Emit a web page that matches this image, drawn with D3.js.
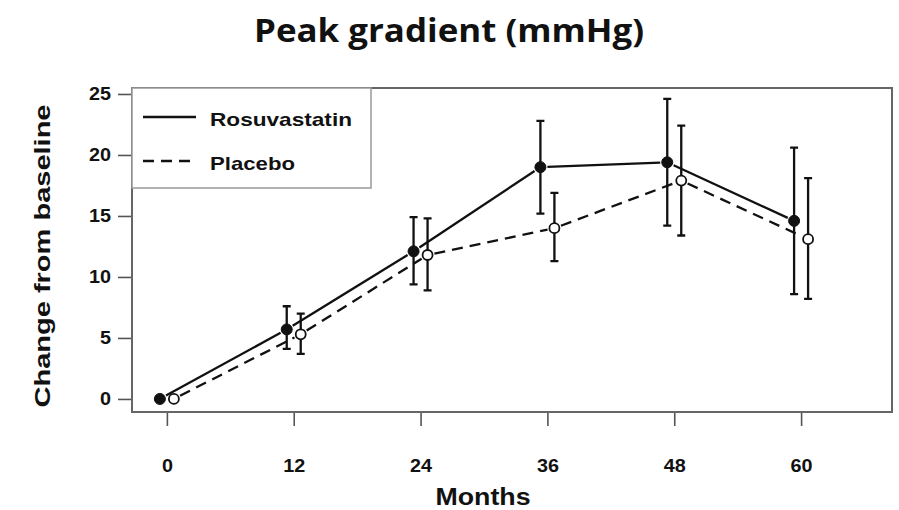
<!DOCTYPE html>
<html>
<head>
<meta charset="utf-8">
<script src="https://cdn.jsdelivr.net/npm/d3@7"></script>
<style>
  body { margin: 0; background: #fff; }
  svg { display: block; }
  text { font-family: "Liberation Sans", Arial, sans-serif; font-weight: bold; fill: #111; }
</style>
</head>
<body>
<script>
// values
var months = [0, 12, 24, 36, 48, 60];
var rosMean = [0, 5.7, 12.1, 19.0, 19.4, 14.6];
var rosLow = [0, 4.1, 9.4, 15.2, 14.2, 8.6];
var rosHigh = [0, 7.6, 14.9, 22.8, 24.6, 20.6];
var placeboMean = [0, 5.3, 11.8, 14.0, 17.9, 13.1];
var placeboLow = [0, 3.7, 8.9, 11.3, 13.4, 8.2];
var placeboHigh = [0, 7.0, 14.8, 16.9, 22.4, 18.1];
var yTicks = [0, 5, 10, 15, 20, 25];
var seriesNames = ["Rosuvastatin", "Placebo"];

var W = 899, H = 510;
var box = {left: 132, right: 892, top: 88, bottom: 412};

var svg = d3.select("body").append("svg").attr("width", W).attr("height", H);

var x = d3.scaleLinear().domain([-3.3, 68.6]).range([box.left, box.right]);
var y = d3.scaleLinear().domain([-1.07, 25.49]).range([box.bottom, box.top]);

// stretch text to the measured width
function fit(sel, w) {
    sel.each(function() {
        var target = typeof w == "function" ? w(this) : w;
        d3.select(this).attr("textLength", target).attr("lengthAdjust", "spacingAndGlyphs");
    });
}

svg.append("text")
    .attr("x", 449).attr("y", 42)
    .attr("text-anchor", "middle")
    .style("font-family", "'Open Sans', 'Noto Sans', sans-serif")
    .style("font-size", "33px")
    .text("Peak gradient (mmHg)")
    .call(fit, 390);

// axes
var yAxis = svg.append("g")
    .attr("transform", "translate(" + box.left + ",0)")
    .call(d3.axisLeft(y).tickValues(yTicks).tickSize(14).tickPadding(6));
var xAxis = svg.append("g")
    .attr("transform", "translate(0," + box.bottom + ")")
    .call(d3.axisBottom(x).tickValues(months).tickSize(14).tickPadding(33));
[yAxis, xAxis].forEach(function(a) {
    a.select(".domain").remove();
    a.selectAll(".tick line").attr("stroke", "#555").attr("stroke-width", 1.6);
    a.selectAll("text").style("font-size", "18px").style("font-weight", "bold")
        .style("font-family", "'Liberation Sans', Arial, sans-serif").attr("fill", "#111");
});
yAxis.selectAll("text").attr("x", -21);
[yAxis, xAxis].forEach(function(a) {
    a.selectAll("text").call(fit, function(n) { return n.getComputedTextLength() * 1.1; });
});

// frame
svg.append("rect")
    .attr("x", box.left).attr("y", box.top)
    .attr("width", box.right - box.left).attr("height", box.bottom - box.top)
    .attr("fill", "none").attr("stroke", "#666").attr("stroke-width", 2);

svg.append("text")
    .attr("x", 483).attr("y", 505)
    .attr("text-anchor", "middle")
    .style("font-size", "23px")
    .text("Months")
    .call(fit, 95);

svg.append("text")
    .attr("transform", "translate(50,256) rotate(-90)")
    .attr("text-anchor", "middle")
    .style("font-size", "22px")
    .text("Change from baseline")
    .call(fit, 303);

// series
var dodge = [-7, 7];
var series = [
    {mean: rosMean, low: rosLow, high: rosHigh, dash: null, fill: "#111"},
    {mean: placeboMean, low: placeboLow, high: placeboHigh, dash: "11,7", fill: "#fff"}
];

series.forEach(function(s, k) {
    var pts = months.map(function(m, i) {
        return {px: x(m) + dodge[k], py: y(s.mean[i]), lo: y(s.low[i]), hi: y(s.high[i])};
    });
    var g = svg.append("g");

    // connecting segments with a gap at each point
    var gap = 7;
    for(var i = 0; i < pts.length - 1; i++) {
        var a = pts[i], b = pts[i + 1];
        var dx = b.px - a.px, dy = b.py - a.py, len = Math.sqrt(dx * dx + dy * dy);
        var ux = dx / len, uy = dy / len;
        g.append("line")
            .attr("x1", a.px + ux * gap).attr("y1", a.py + uy * gap)
            .attr("x2", b.px - ux * gap).attr("y2", b.py - uy * gap)
            .attr("stroke", "#111").attr("stroke-width", 2.3)
            .attr("stroke-dasharray", s.dash);
    }

    // error bars (none at baseline)
    var bars = pts.filter(function(p) { return p.hi != p.lo; });
    g.selectAll(".bar").data(bars).enter().append("path")
        .attr("d", function(p) {
            return "M" + p.px + "," + p.hi + "V" + p.lo +
                "M" + (p.px - 4) + "," + p.hi + "H" + (p.px + 4) +
                "M" + (p.px - 4) + "," + p.lo + "H" + (p.px + 4);
        })
        .attr("fill", "none").attr("stroke", "#111").attr("stroke-width", 2.3);

    g.selectAll(".pt").data(pts).enter().append("circle")
        .attr("cx", function(p) { return p.px; })
        .attr("cy", function(p) { return p.py; })
        .attr("r", k == 0 ? 5.5 : 5)
        .attr("fill", s.fill)
        .attr("stroke", "#111").attr("stroke-width", k == 0 ? 1 : 1.8);
});

// legend
var leg = svg.append("g");
leg.append("rect")
    .attr("x", box.left).attr("y", box.top)
    .attr("width", 239).attr("height", 100)
    .attr("fill", "#fff").attr("stroke", "#999").attr("stroke-width", 1.5);
var legRows = [{y: 117, dash: null, w: 142}, {y: 161, dash: "11,7", w: 85}];
legRows.forEach(function(r, i) {
    leg.append("line")
        .attr("x1", 143).attr("x2", 196).attr("y1", r.y).attr("y2", r.y)
        .attr("stroke", "#111").attr("stroke-width", 2.3)
        .attr("stroke-dasharray", r.dash);
    leg.append("text")
        .attr("x", 210).attr("y", r.y + 9)
        .style("font-size", "19px")
        .text(seriesNames[i])
        .call(fit, r.w);
});
</script>
</body>
</html>
